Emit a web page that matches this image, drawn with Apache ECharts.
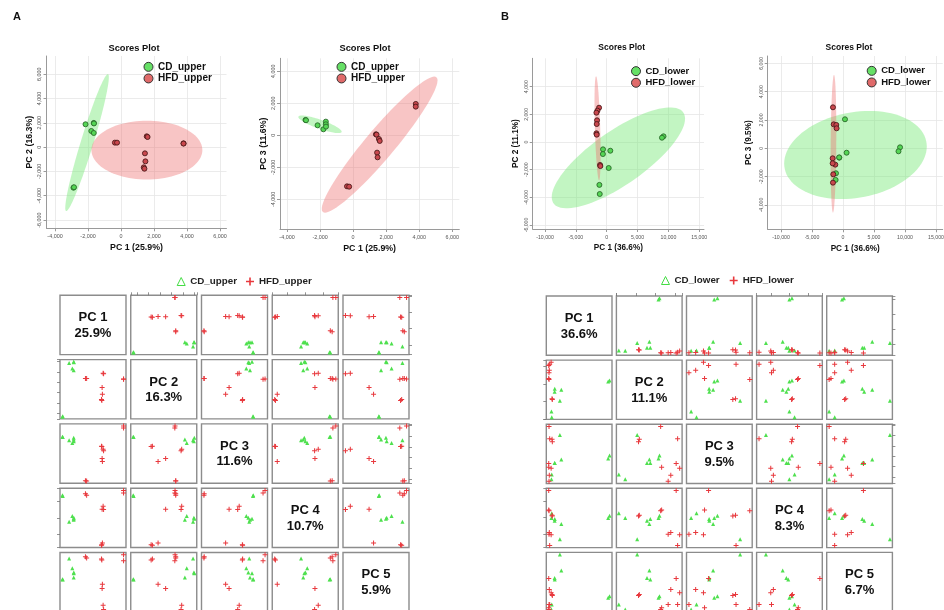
<!DOCTYPE html>
<html><head><meta charset="utf-8">
<script src="https://cdn.jsdelivr.net/npm/echarts@6/dist/echarts.min.js"></script>
<style>html,body{margin:0;padding:0;background:#fff}#c{width:944px;height:610px}</style>
</head><body><div id="c"></div>
<script>
// ---------------- DATA ----------------
const upperVariance = ['25.9%', '16.3%', '11.6%', '10.7%', '5.9%'];
const lowerVariance = ['36.6%', '11.1%', '9.5%', '8.3%', '6.7%'];

const cdUpperPC1 = [-2880, -2850, -2150, -1800, -1650, -1650, -1640];
const cdUpperPC2 = [-3340, -3300, 1880, 1330, 1990, 1165, 1950];
const cdUpperPC3 = [960, 940, 625, 375, 854, 688, 542];
const cdUpperPC4 = [1380, 1340, -220, 120, -40, -100, 20];
const cdUpperPC5 = [200, 180, 1440, 860, 560, 300, 600];

const hfdUpperPC1 = [-370, -240, 3790, 3790, 1380, 1420, 1560, 1610, 1450, 1480];
const hfdUpperPC2 = [370, 370, 310, 290, -1665, -1775, 890, 835, -510, -1170];
const hfdUpperPC3 = [-3190, -3210, 1960, 1790, 62, 40, -229, -354, -1083, -1375];
const hfdUpperPC4 = [1480, 1380, 1680, 1520, -1660, -1620, 720, 520, 540, -1520];
const hfdUpperPC5 = [1540, 1460, 1660, 1300, 1400, 1340, -1340, -1600, -340, -100];

const cdLowerPC1 = [9200, 8950, -600, -620, 580, 320, -1190, -1130];
const cdLowerPC2 = [410, 310, -530, -870, -630, -1880, -3100, -3760];
const cdLowerPC3 = [70, -210, -660, -640, -310, 2050, -2230, -1760];
const cdLowerPC4 = [120, -20, -80, -180, -380, -1280, -20, 260];
const cdLowerPC5 = [-900, -1000, 100, 200, 640, 1600, -1700, -1400];

const hfdLowerPC1 = [-1240, -1500, -1670, -1570, -1620, -1670, -1620, -1080, -1030];
const hfdLowerPC2 = [2480, 2270, 2120, 1570, 1300, 630, 530, -1660, -1740];
const hfdLowerPC3 = [-1153, 1694, -706, -1835, -2424, -1059, 2894, 1650, 1412];
const hfdLowerPC4 = [-1020, -1650, 1620, -880, -980, 460, 420, 140, 100];
const hfdLowerPC5 = [-700, -1400, 160, -500, -1400, -1600, -1700, -800, -860];

// confidence ellipses: [centreX, centreY, halfAxisUx, halfAxisUy, conjugateVx, conjugateVy]
const ellUpper12CD  = [-2058, 368, 1258, 5632, 400, 0];
const ellUpper12HFD = [1570, -240, 3360, 0, 0, 2420];
const ellUpper13CD  = [-2004, 688, 1310, -459, 0, 300];
const ellUpper13HFD = [1605, -583, 3306, 4250, 1150, 0];
const ellLower12CD  = [1890, -1145, 10800, 2830, 0, 2300];
const ellLower12HFD = [-1485, 988, -243, 3759, 430, 0];
const ellLower13CD  = [2011, -470, 11500, 600, 0, 3050];
const ellLower13HFD = [-1536, 318, 83, 4858, 450, 0];

// tick labels
const upperXTicks = [-4000, -2000, 0, 2000, 4000, 6000];
const upperY2Ticks = [-6000, -4000, -2000, 0, 2000, 4000, 6000];
const upperY3Ticks = [-4000, -2000, 0, 2000, 4000];
const lowerXTicks = [-10000, -5000, 0, 5000, 10000, 15000];
const lowerY2Ticks = [-6000, -4000, -2000, 0, 2000, 4000];
const lowerY3Ticks = [-4000, -2000, 0, 2000, 4000, 6000];

// ---------------- BUILD ----------------
const FONT = '"Liberation Sans", Arial, Helvetica, sans-serif';
const GREEN_PT = '#55d655', GREEN_BD = '#2a6a2a';
const RED_PT = '#c9474d', RED_BD = '#4d1a1a';
const GREEN_ELL = 'rgba(120,232,120,0.45)';
const RED_ELL = 'rgba(238,110,110,0.40)';
const PLUS = 'path://M4,0H6V4H10V6H6V10H4V6H0V4H4Z';

const grids = [], xAxes = [], yAxes = [], series = [], graphics = [], legends = [];

function fmt(v) { return Math.round(v).toLocaleString('en-US'); }
function zip(a, b) { return a.map((v, k) => [v, b[k]]); }

function ellipseSeries(gi, ell, color) {
  return {
    type: 'custom', name: 'ellipse', xAxisIndex: gi, yAxisIndex: gi, z: 1, silent: true, clip: true,
    data: [ell],
    renderItem: function (params, api) {
      const cx = api.value(0), cy = api.value(1), ux = api.value(2), uy = api.value(3), vx = api.value(4), vy = api.value(5);
      const pts = [];
      for (let k = 0; k < 96; k++) {
        const t = k / 96 * Math.PI * 2;
        pts.push(api.coord([cx + ux * Math.cos(t) + vx * Math.sin(t), cy + uy * Math.cos(t) + vy * Math.sin(t)]));
      }
      return { type: 'polygon', shape: { points: pts }, style: { fill: color, stroke: null } };
    }
  };
}

function addScorePlot(p) {
  const gi = grids.length;
  grids.push({ left: p.left, top: p.top, width: p.width, height: p.height, show: false, outerBoundsMode: 'none' });
  const nameStyle = { fontFamily: FONT, fontWeight: 'bold', fontSize: p.nameFs, color: '#111' };
  xAxes.push({
    gridIndex: gi, type: 'value', min: p.xr[0], max: p.xr[1],
    name: p.xName, nameLocation: 'middle', nameGap: 15, nameTextStyle: nameStyle,
    axisLine: { show: true, onZero: false, lineStyle: { color: '#9a9a9a', width: 1 } },
    axisTick: { show: true, length: 3, customValues: p.xt, lineStyle: { color: '#9a9a9a' } },
    axisLabel: { customValues: p.xt, formatter: fmt, fontSize: p.tickFs, color: '#555', margin: 6, fontFamily: FONT },
    splitLine: { show: true, lineStyle: { color: '#e6e6e6', width: 0.8 } }
  });
  yAxes.push({
    gridIndex: gi, type: 'value', min: p.yr[0], max: p.yr[1],
    name: p.yName, nameLocation: 'middle', nameGap: p.yGap, nameRotate: 90, nameTextStyle: nameStyle,
    axisLine: { show: true, onZero: false, lineStyle: { color: '#9a9a9a', width: 1 } },
    axisTick: { show: true, length: 3, customValues: p.yt, lineStyle: { color: '#9a9a9a' } },
    axisLabel: { customValues: p.yt, formatter: fmt, fontSize: p.tickFs, color: '#555', margin: 4, rotate: 90, fontFamily: FONT },
    splitLine: { show: true, lineStyle: { color: '#e6e6e6', width: 0.8 } }
  });
  series.push(ellipseSeries(gi, p.ell[0], GREEN_ELL));
  series.push(ellipseSeries(gi, p.ell[1], RED_ELL));
  series.push({ type: 'scatter', name: p.names[0], xAxisIndex: gi, yAxisIndex: gi, z: 3, symbolSize: 5,
    data: zip(p.cd[0], p.cd[1]), itemStyle: { color: GREEN_PT, borderColor: GREEN_BD, borderWidth: 0.9, opacity: 1 } });
  series.push({ type: 'scatter', name: p.names[1], xAxisIndex: gi, yAxisIndex: gi, z: 3, symbolSize: 5,
    data: zip(p.hfd[0], p.hfd[1]), itemStyle: { color: RED_PT, borderColor: RED_BD, borderWidth: 0.9, opacity: 1 } });
  graphics.push({ type: 'text', x: p.title[0], y: p.title[1], silent: true,
    style: { text: 'Scores Plot', fill: '#111', font: 'bold ' + p.titleFs + 'px ' + FONT, align: 'center', verticalAlign: 'middle', textAlign: 'center', textVerticalAlign: 'middle' } });
  legends.push({
    left: p.leg[0], top: p.leg[1], orient: 'vertical', padding: 0, itemGap: 0.3, itemWidth: 9, itemHeight: 9, selectedMode: false,
    textStyle: { fontFamily: FONT, fontWeight: 'bold', fontSize: p.legFs, color: '#111', lineHeight: 11.3 },
    data: [
      { name: p.names[0], icon: 'circle', itemStyle: { color: '#66e066', borderColor: '#333', borderWidth: 1 } },
      { name: p.names[1], icon: 'circle', itemStyle: { color: '#e06a6a', borderColor: '#333', borderWidth: 1 } }
    ]
  });
}

function padMin(v) { return v.min - (v.max - v.min) * 0.04; }
function padMax(v) { return v.max + (v.max - v.min) * 0.04; }

function addMatrix(m) {
  for (let i = 0; i < 5; i++) {
    for (let j = 0; j < 5; j++) {
      const gi = grids.length;
      const left = m.left0 + j * m.px, top = m.top0 + i * m.py;
      grids.push({ left: left, top: top, width: m.w, height: m.h, show: true, borderColor: '#8c8c8c', borderWidth: 1.4,
        backgroundColor: 'rgba(0,0,0,0)', outerBoundsMode: 'none' });
      const topTick = i === 0 && (j === 1 || j === 3);
      const botTick = i === 4 && (j === 0 || j === 2 || j === 4);
      const rightTick = j === 4 && (i === 0 || i === 2 || i === 4);
      const leftTick = j === 0 && (i === 1 || i === 3);
      const diag = i === j;
      xAxes.push({ gridIndex: gi, type: 'value', min: diag ? 0 : padMin, max: diag ? 1 : padMax, splitNumber: 4,
        position: topTick ? 'top' : 'bottom',
        axisLine: { show: false, onZero: false }, axisLabel: { show: false }, splitLine: { show: false },
        axisTick: { show: !diag && (topTick || botTick), length: 3, lineStyle: { color: '#777', width: 0.8 } } });
      yAxes.push({ gridIndex: gi, type: 'value', min: diag ? 0 : padMin, max: diag ? 1 : padMax, splitNumber: 4,
        position: rightTick ? 'right' : 'left',
        axisLine: { show: false, onZero: false }, axisLabel: { show: false }, splitLine: { show: false },
        axisTick: { show: !diag && (rightTick || leftTick), length: 3, lineStyle: { color: '#777', width: 0.8 } } });
      if (diag) {
        graphics.push({ type: 'text', x: left + m.w / 2, y: top + m.h / 2 + 0.5, silent: true,
          style: { text: 'PC ' + (i + 1) + '\n' + m.variance[i], fill: '#111', font: 'bold 13px ' + FONT, lineHeight: 15.6,
            align: 'center', verticalAlign: 'middle', textAlign: 'center', textVerticalAlign: 'middle' } });
      } else {
        series.push({ type: 'scatter', name: m.names[0], xAxisIndex: gi, yAxisIndex: gi, symbol: 'triangle', symbolSize: 4,
          data: zip(m.cd[j], m.cd[i]), itemStyle: { color: '#4ee04e', opacity: 1 }, z: 3 });
        series.push({ type: 'scatter', name: m.names[1], xAxisIndex: gi, yAxisIndex: gi, symbol: PLUS, symbolSize: 5,
          data: zip(m.hfd[j], m.hfd[i]), itemStyle: { color: '#e8383d', opacity: 1 }, z: 4 });
      }
    }
  }
  legends.push({
    left: m.leg[0], top: m.leg[1], orient: 'horizontal', padding: 0, itemGap: m.leg[2], itemWidth: 8, itemHeight: 8, selectedMode: false,
    textStyle: { fontFamily: FONT, fontWeight: 'bold', fontSize: 9.8, color: '#222' },
    data: [
      { name: m.names[0], icon: 'triangle', itemStyle: { color: 'rgba(0,0,0,0)', borderColor: '#44dd44', borderWidth: 1 } },
      { name: m.names[1], icon: PLUS, itemStyle: { color: '#e8383d', borderWidth: 0 } }
    ]
  });
}

addScorePlot({ left: 46.5, top: 56, width: 180, height: 172.3, xr: [-4515, 6394], yr: [-6680, 7500],
  xt: upperXTicks, yt: upperY2Ticks, xName: 'PC 1 (25.9%)', yName: 'PC 2 (16.3%)', yGap: 12,
  cd: [cdUpperPC1, cdUpperPC2], hfd: [hfdUpperPC1, hfdUpperPC2], ell: [ellUpper12CD, ellUpper12HFD],
  names: ['CD_upper', 'HFD_upper'], title: [134, 48.5], leg: [143.5, 61.2], nameFs: 8.8, titleFs: 9.3, legFs: 10, tickFs: 5.4 });
addScorePlot({ left: 280, top: 58.3, width: 179.3, height: 170.7, xr: [-4423, 6423], yr: [-5856, 4812],
  xt: upperXTicks, yt: upperY3Ticks, xName: 'PC 1 (25.9%)', yName: 'PC 3 (11.6%)', yGap: 12,
  cd: [cdUpperPC1, cdUpperPC3], hfd: [hfdUpperPC1, hfdUpperPC3], ell: [ellUpper13CD, ellUpper13HFD],
  names: ['CD_upper', 'HFD_upper'], title: [365, 48.5], leg: [336.5, 61.2], nameFs: 8.8, titleFs: 9.3, legFs: 10, tickFs: 5.4 });
addScorePlot({ left: 532.7, top: 58.3, width: 171.3, height: 170.7, xr: [-11993, 15761], yr: [-6290, 6053],
  xt: lowerXTicks, yt: lowerY2Ticks, xName: 'PC 1 (36.6%)', yName: 'PC 2 (11.1%)', yGap: 13,
  cd: [cdLowerPC1, cdLowerPC2], hfd: [hfdLowerPC1, hfdLowerPC2], ell: [ellLower12CD, ellLower12HFD],
  names: ['CD_lower', 'HFD_lower'], title: [621.7, 47.3], leg: [631, 65.5], nameFs: 8.2, titleFs: 8.5, legFs: 9.5, tickFs: 5.2 });
addScorePlot({ left: 767.7, top: 56, width: 175, height: 173.3, xr: [-12145, 16080], yr: [-5715, 6515],
  xt: lowerXTicks, yt: lowerY3Ticks, xName: 'PC 1 (36.6%)', yName: 'PC 3 (9.5%)', yGap: 15,
  cd: [cdLowerPC1, cdLowerPC3], hfd: [hfdLowerPC1, hfdLowerPC3], ell: [ellLower13CD, ellLower13HFD],
  names: ['CD_lower', 'HFD_lower'], title: [849, 47.3], leg: [866.7, 65.2], nameFs: 8.2, titleFs: 8.5, legFs: 9.5, tickFs: 5.2 });

addMatrix({ left0: 60, top0: 295.3, px: 70.75, py: 64.3, w: 66, h: 59.3, variance: upperVariance,
  cd: [cdUpperPC1, cdUpperPC2, cdUpperPC3, cdUpperPC4, cdUpperPC5],
  hfd: [hfdUpperPC1, hfdUpperPC2, hfdUpperPC3, hfdUpperPC4, hfdUpperPC5],
  names: ['CD_upper', 'HFD_upper'], leg: [176.7, 276.5, 9] });
addMatrix({ left0: 546.3, top0: 296, px: 70.1, py: 64.1, w: 65.7, h: 59.3, variance: lowerVariance,
  cd: [cdLowerPC1, cdLowerPC2, cdLowerPC3, cdLowerPC4, cdLowerPC5],
  hfd: [hfdLowerPC1, hfdLowerPC2, hfdLowerPC3, hfdLowerPC4, hfdLowerPC5],
  names: ['CD_lower', 'HFD_lower'], leg: [661, 275.5, 10] });

graphics.push({ type: 'text', x: 17, y: 17, silent: true,
  style: { text: 'A', fill: '#111', font: 'bold 11px ' + FONT, align: 'center', verticalAlign: 'middle', textAlign: 'center', textVerticalAlign: 'middle' } });
graphics.push({ type: 'text', x: 505, y: 17, silent: true,
  style: { text: 'B', fill: '#111', font: 'bold 11px ' + FONT, align: 'center', verticalAlign: 'middle', textAlign: 'center', textVerticalAlign: 'middle' } });

const chart = echarts.init(document.getElementById('c'), null, { renderer: 'canvas', width: 944, height: 610 });
chart.setOption({
  animation: false,
  backgroundColor: '#ffffff',
  textStyle: { fontFamily: FONT },
  grid: grids, xAxis: xAxes, yAxis: yAxes, series: series, legend: legends,
  graphic: { elements: graphics },
  tooltip: { show: false }
});
</script></body></html>
